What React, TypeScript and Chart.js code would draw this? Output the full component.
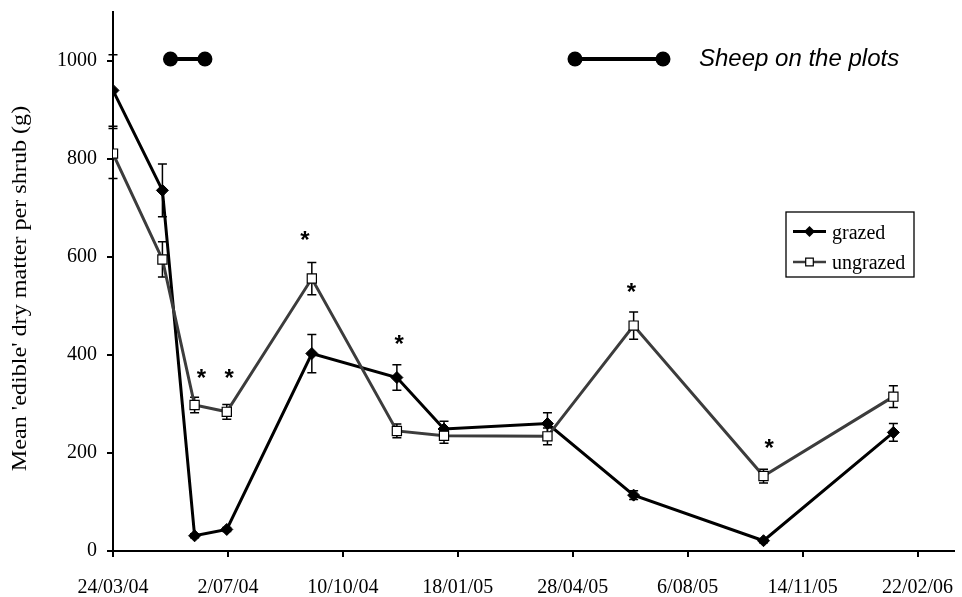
import React, { useEffect, useRef } from 'react';
import { Chart, registerables } from 'chart.js';

Chart.register(...registerables);

// ---- data ----
const sampleDays = [0, 43, 71, 99, 173, 247, 288, 378, 453, 566, 679];
const grazed = [940, 736, 31, 44, 403, 354, 249, 260, 114, 21, 242];
const grazedErr = [73, 54, 4, 4, 39, 26, 16, 22, 9, 4, 18];
const ungrazed = [811, 595, 298, 284, 556, 245, 235, 234, 460, 153, 315];
const ungrazedErr = [51, 36, 16, 15, 33, 14, 15, 17, 28, 14, 22];
const sheepDays = [50, 80];
const sheepLevel = 1004;
const starDays = [77, 101, 167, 249, 451, 571];
const starValues = [364, 364, 644, 433, 538, 221];
const xTickDays = [0, 100, 200, 300, 400, 500, 600, 700];
const xTickLabels = ['24/03/04', '2/07/04', '10/10/04', '18/01/05', '28/04/05', '6/08/05', '14/11/05', '22/02/06'];
const yTickValues = [0, 200, 400, 600, 800, 1000];
const seriesNames = ['grazed', 'ungrazed'];
const yTitle = "Mean 'edible' dry matter per shrub (g)";
const sheepLabel = 'Sheep on the plots';

const SERIF = '"Liberation Serif", "Times New Roman", serif';
const SANS = '"Liberation Sans", Arial, sans-serif';
const GRAY = '#3c3c3c';

function drawMarker(ctx: CanvasRenderingContext2D, kind: string, x: number, y: number, r: number) {
  ctx.beginPath();
  if (kind === 'diamond') {
    ctx.moveTo(x - r, y);
    ctx.lineTo(x, y - r);
    ctx.lineTo(x + r, y);
    ctx.lineTo(x, y + r);
    ctx.closePath();
    ctx.fillStyle = '#000';
    ctx.fill();
  } else {
    ctx.rect(x - r, y - r, 2 * r, 2 * r);
    ctx.fillStyle = '#fff';
    ctx.fill();
    ctx.strokeStyle = '#000';
    ctx.lineWidth = 1.2;
    ctx.stroke();
  }
}

const overlayPlugin = {
  id: 'overlay',
  beforeDatasetsDraw(chart: any) {
    const { ctx, scales } = chart;
    const x = scales.x;
    const y = scales.y;
    ctx.save();
    ctx.strokeStyle = '#000';
    ctx.lineWidth = 1.5;
    const drawBars = (vals: number[], errs: number[]) => {
      vals.forEach((v, i) => {
        const px = x.getPixelForValue(sampleDays[i]);
        const top = y.getPixelForValue(v + errs[i]);
        const bot = y.getPixelForValue(Math.max(0, v - errs[i]));
        ctx.beginPath();
        ctx.moveTo(px, top);
        ctx.lineTo(px, bot);
        ctx.moveTo(px - 4.5, top);
        ctx.lineTo(px + 4.5, top);
        ctx.moveTo(px - 4.5, bot);
        ctx.lineTo(px + 4.5, bot);
        ctx.stroke();
      });
    };
    drawBars(grazed, grazedErr);
    drawBars(ungrazed, ungrazedErr);
    ctx.restore();
  },
  afterDraw(chart: any) {
    const { ctx, scales, chartArea } = chart;
    const x = scales.x;
    const y = scales.y;
    ctx.save();

    // y-axis title
    ctx.save();
    ctx.translate(26, (chartArea.top + chartArea.bottom) / 2 + 7);
    ctx.rotate(-Math.PI / 2);
    ctx.scale(1.15, 1);
    ctx.font = `21px ${SERIF}`;
    ctx.fillStyle = '#000';
    ctx.textAlign = 'center';
    ctx.textBaseline = 'alphabetic';
    ctx.fillText(yTitle, 0, 0);
    ctx.restore();

    // significance asterisks
    ctx.font = `bold 24px ${SANS}`;
    ctx.fillStyle = '#000';
    ctx.textAlign = 'center';
    ctx.textBaseline = 'alphabetic';
    starDays.forEach((d, i) => {
      ctx.fillText('*', x.getPixelForValue(d), y.getPixelForValue(starValues[i]) + 13);
    });

    // sheep legend key
    const sy = y.getPixelForValue(sheepLevel);
    const sx0 = chartArea.left + 462;
    const sx1 = chartArea.left + 550;
    ctx.strokeStyle = '#000';
    ctx.lineWidth = 4;
    ctx.beginPath();
    ctx.moveTo(sx0, sy);
    ctx.lineTo(sx1, sy);
    ctx.stroke();
    ctx.fillStyle = '#000';
    [sx0, sx1].forEach((cx) => {
      ctx.beginPath();
      ctx.arc(cx, sy, 7.5, 0, Math.PI * 2);
      ctx.fill();
    });
    ctx.font = `italic 24px ${SANS}`;
    ctx.textAlign = 'left';
    ctx.textBaseline = 'alphabetic';
    ctx.fillText(sheepLabel, chartArea.left + 586, sy + 7);

    // series legend box
    const bx = chartArea.left + 673;
    const by = chartArea.top + 200;
    const bw = 128;
    const bh = 65;
    ctx.fillStyle = '#fff';
    ctx.fillRect(bx, by, bw, bh);
    ctx.strokeStyle = '#000';
    ctx.lineWidth = 1.3;
    ctx.strokeRect(bx, by, bw, bh);
    const rows = [by + 19.5, by + 50];
    seriesNames.forEach((name, i) => {
      const ry = rows[i];
      ctx.strokeStyle = i === 0 ? '#000' : GRAY;
      ctx.lineWidth = i === 0 ? 3 : 2.5;
      ctx.beginPath();
      ctx.moveTo(bx + 7, ry);
      ctx.lineTo(bx + 40, ry);
      ctx.stroke();
      drawMarker(ctx, i === 0 ? 'diamond' : 'square', bx + 23.5, ry, i === 0 ? 5.5 : 3.8);
      ctx.fillStyle = '#000';
      ctx.font = `20px ${SERIF}`;
      ctx.textAlign = 'left';
      ctx.textBaseline = 'alphabetic';
      ctx.fillText(name, bx + 46, ry + 7);
    });

    ctx.restore();
  },
};

export default function App() {
  const canvasRef = useRef<HTMLCanvasElement | null>(null);

  useEffect(() => {
    if (!canvasRef.current) return;
    const chart = new Chart(canvasRef.current, {
      type: 'line',
      data: {
        datasets: [
          {
            label: seriesNames[1],
            data: sampleDays.map((d, i) => ({ x: d, y: ungrazed[i] })),
            borderColor: GRAY,
            borderWidth: 3,
            pointStyle: 'rect',
            pointRadius: 6.5,
            pointBackgroundColor: '#fff',
            pointBorderColor: '#000',
            pointBorderWidth: 1.2,
            tension: 0,
          },
          {
            label: seriesNames[0],
            data: sampleDays.map((d, i) => ({ x: d, y: grazed[i] })),
            borderColor: '#000',
            borderWidth: 3,
            pointStyle: 'rectRot',
            pointRadius: 6,
            pointBackgroundColor: '#000',
            pointBorderColor: '#000',
            pointBorderWidth: 1,
            tension: 0,
          },
          {
            label: 'sheep',
            data: sheepDays.map((d) => ({ x: d, y: sheepLevel })),
            borderColor: '#000',
            borderWidth: 4,
            pointStyle: 'circle',
            pointRadius: 7.5,
            pointBackgroundColor: '#000',
            pointBorderColor: '#000',
            pointBorderWidth: 0,
            tension: 0,
          },
        ],
      },
      options: {
        responsive: false,
        animation: false,
        events: [],
        layout: { padding: { top: 12, right: 4, left: 0, bottom: 0 } },
        plugins: {
          legend: { display: false },
          tooltip: { enabled: false },
          title: { display: false },
        },
        scales: {
          x: {
            type: 'linear',
            min: 0,
            max: 732,
            afterBuildTicks: (scale: any) => {
              scale.ticks = xTickDays.map((v) => ({ value: v }));
            },
            afterFit: (scale: any) => {
              scale.height = 46;
              scale.paddingLeft = 0;
              scale.paddingRight = 0;
            },
            ticks: {
              autoSkip: false,
              maxRotation: 0,
              minRotation: 0,
              padding: 19,
              color: '#000',
              font: { family: SERIF, size: 20 },
              callback: (_v: any, i: number) => xTickLabels[i],
            },
            grid: {
              display: true,
              drawOnChartArea: false,
              drawTicks: true,
              tickLength: 6,
              color: '#000',
              lineWidth: 2,
            },
            border: { display: true, color: '#000', width: 2 },
          },
          y: {
            type: 'linear',
            min: 0,
            max: 1100,
            afterBuildTicks: (scale: any) => {
              scale.ticks = yTickValues.map((v) => ({ value: v }));
            },
            afterFit: (scale: any) => {
              scale.width = 113;
              scale.paddingTop = 0;
              scale.paddingBottom = 0;
            },
            ticks: {
              padding: 10,
              color: '#000',
              font: { family: SERIF, size: 20 },
              callback: (v: any) => String(v),
            },
            grid: {
              display: true,
              drawOnChartArea: false,
              drawTicks: true,
              tickLength: 6,
              color: '#000',
              lineWidth: 2,
            },
            border: { display: true, color: '#000', width: 2 },
          },
        },
      },
      plugins: [overlayPlugin],
    } as any);
    return () => chart.destroy();
  }, []);

  return (
    <div style={{ position: 'absolute', left: 0, top: 0, width: 962, height: 597, background: '#fff' }}>
      <canvas ref={canvasRef} width={962} height={597} style={{ display: 'block' }} />
    </div>
  );
}
